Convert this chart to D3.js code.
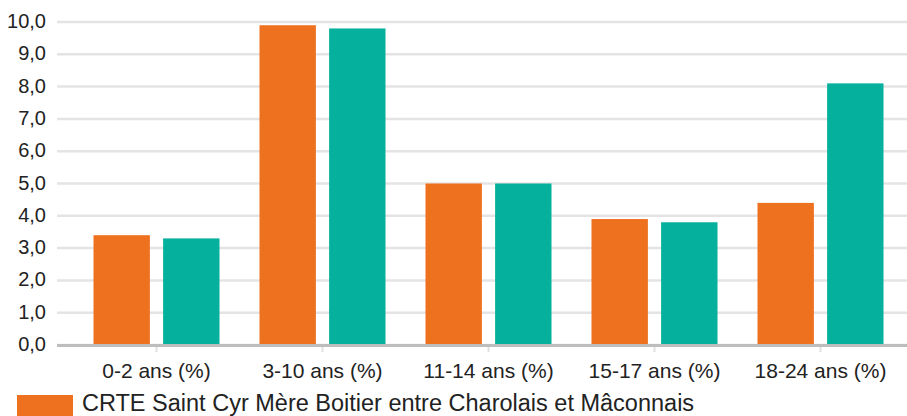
<!DOCTYPE html>
<html>
<head>
<meta charset="utf-8">
<script src="https://cdn.jsdelivr.net/npm/d3@7"></script>
<style>
  body { margin: 0; background: #fff; }
  svg { display: block; font-family: "Liberation Sans", Arial, sans-serif; }
</style>
</head>
<body>
<div id="chart"></div>
<script>
const categories = ["0-2 ans (%)", "3-10 ans (%)", "11-14 ans (%)", "15-17 ans (%)", "18-24 ans (%)"]
const crteValues = [3.4, 9.9, 5.0, 3.9, 4.4]
const otherValues = [3.3, 9.8, 5.0, 3.8, 8.1]
const yTicks = [0, 1, 2, 3, 4, 5, 6, 7, 8, 9, 10]
const legendLabel = "CRTE Saint Cyr Mère Boitier entre Charolais et Mâconnais"

const colors = ["#ee7120", "#05b09d"]

let width = 907, height = 416
let margin = {top: 22, right: 0, bottom: 71, left: 57}

let svg = d3.select("#chart")
    .append("svg")
    .attr("width", width)
    .attr("height", height)

// y scale
let yScale = d3.scaleLinear()
    .domain([0, 10])
    .range([height - margin.bottom, margin.top])

// x scale, group centres at ~156, 322, 488, 654, 820
let xScale = d3.scaleBand()
    .domain(categories)
    .range([73.5, 903.5])

let inner = d3.scaleBand()
    .domain([0, 1])
    .range([20, xScale.bandwidth() - 20])
    .paddingInner(0.19)

// grid lines
svg.append("g")
    .selectAll("line")
    .data(yTicks)
    .join("line")
    .attr("x1", margin.left)
    .attr("x2", width)
    .attr("y1", d => yScale(d))
    .attr("y2", d => yScale(d))
    .attr("stroke", "#e4e4e4")
    .attr("stroke-width", 2.5)

// y labels
svg.append("g")
    .selectAll("text")
    .data(yTicks)
    .join("text")
    .attr("x", 46)
    .attr("y", d => yScale(d))
    .attr("dy", "0.3em")
    .attr("text-anchor", "end")
    .attr("font-size", 20)
    .attr("fill", "#222")
    .text(d => d.toFixed(1).replace(".", ","))

// bars
let groups = svg.append("g")
    .selectAll("g")
    .data(categories)
    .join("g")
    .attr("transform", d => "translate(" + xScale(d) + ",0)")

groups.selectAll("rect")
    .data((d, i) => [crteValues[i], otherValues[i]])
    .join("rect")
    .attr("x", (d, j) => inner(j))
    .attr("width", inner.bandwidth())
    .attr("y", d => yScale(d))
    .attr("height", d => yScale(0) - yScale(d))
    .attr("fill", (d, j) => colors[j])

// x axis
let xAxis = svg.append("g")
    .attr("transform", "translate(0," + (yScale(0) + 1) + ")")
    .call(d3.axisBottom(xScale).tickSize(6).tickSizeOuter(0).tickPadding(11))

xAxis.select(".domain").remove()
xAxis.selectAll(".tick line").attr("stroke", "#e0e0e0").attr("stroke-width", 2)
xAxis.selectAll(".tick text")
    .attr("font-size", 21)
    .attr("fill", "#222")
    .attr("font-family", "Liberation Sans, Arial, sans-serif")

svg.append("line")
    .attr("x1", margin.left)
    .attr("x2", width)
    .attr("y1", yScale(0) + 0.5)
    .attr("y2", yScale(0) + 0.5)
    .attr("stroke", "#bdbdbd")
    .attr("stroke-width", 3)

// legend (kept just inside the bottom edge)
svg.append("rect")
    .attr("x", 17)
    .attr("y", 395)
    .attr("width", 56)
    .attr("height", 24)
    .attr("fill", colors[0])

svg.append("text")
    .attr("x", 82)
    .attr("y", 410.5)
    .attr("font-size", 23.5)
    .attr("fill", "#222")
    .text(legendLabel)
</script>
</body>
</html>
